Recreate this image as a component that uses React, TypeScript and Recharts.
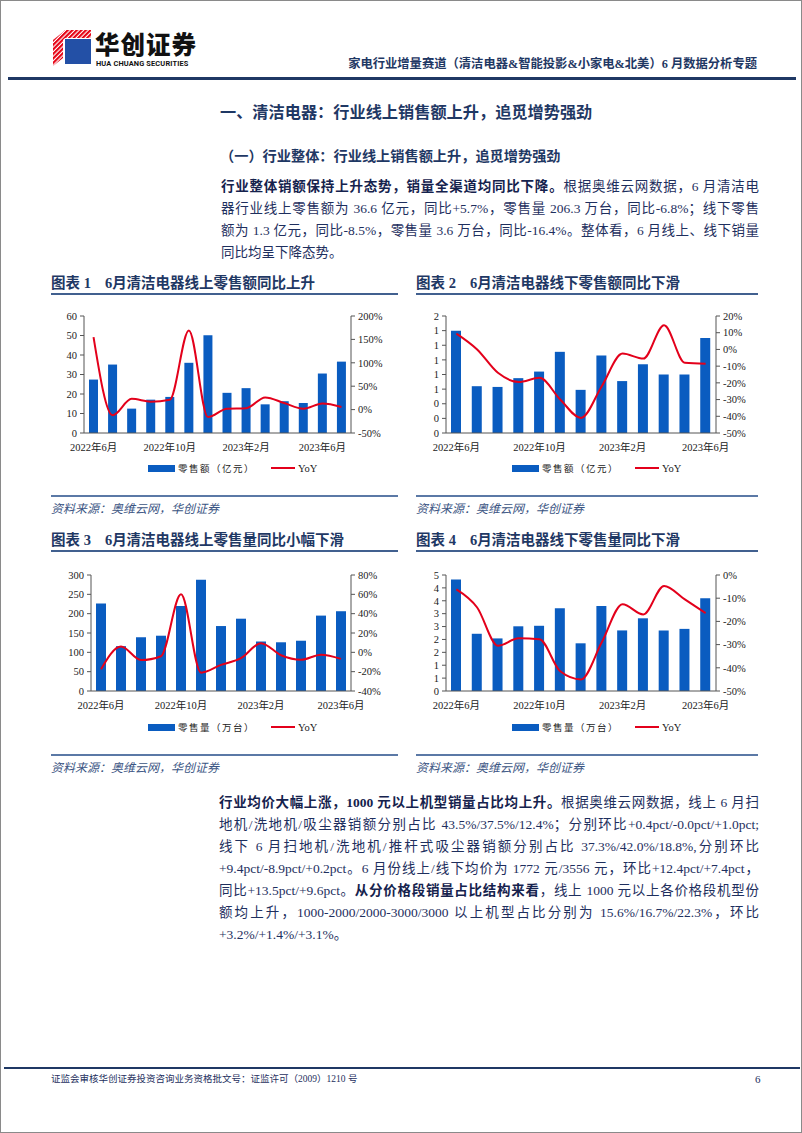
import React from "react";
import { ComposedChart, Bar, Line, XAxis, YAxis } from "recharts";

// months on the category axis (chart 1 has one extra bar)
const MONTHS = [
  "2022年6月", "2022年7月", "2022年8月", "2022年9月", "2022年10月", "2022年11月", "2022年12月",
  "2023年1月", "2023年2月", "2023年3月", "2023年4月", "2023年5月", "2023年6月",
];
const MONTHS_14 = [...MONTHS, "2023年7月"];

// 图表1 线上零售额（亿元）/ YoY %
const ONLINE_SALES = [27.4, 35.1, 12.5, 17.1, 18.5, 36.0, 50.1, 20.6, 23.0, 14.7, 16.3, 15.4, 30.5, 36.6];
const ONLINE_SALES_YOY = [155, -12, 23, 17, 21, 169, -16, 2, 3, 26, 14, 2, 13, 5.7];

// 图表2 线下零售额（亿元）/ YoY %
const OFFLINE_SALES = [1.4, 0.64, 0.63, 0.75, 0.84, 1.11, 0.59, 1.06, 0.71, 0.94, 0.8, 0.8, 1.3];
const OFFLINE_SALES_YOY = [9.5, 0, -14, -19.5, -17, -30, -41, -22, -2.5, -5.5, 14.5, -8, -8.5];

// 图表3 线上零售量（万台）/ YoY %
const ONLINE_VOL = [226, 116, 139, 143, 220, 288, 168, 187, 128, 126, 130, 195, 206.3];
const ONLINE_VOL_YOY = [-17.5, 6, -8, -4, 60, -21, -13, -6, 9.5, -3, -7.7, -2.4, -6.8];

// 图表4 线下零售量（万台）/ YoY %
const OFFLINE_VOL = [4.33, 2.22, 2.04, 2.51, 2.53, 3.21, 1.85, 3.3, 2.35, 2.82, 2.35, 2.41, 3.6];
const OFFLINE_VOL_YOY = [-6.2, -14, -30.5, -27.3, -27.7, -41.5, -45, -29, -12.6, -17, -4.7, -10.5, -16.4];

const TICKS_1L = [0, 10, 20, 30, 40, 50, 60];
const TICKS_1R = [-50, 0, 50, 100, 150, 200];
const TICKS_2L = [0, 0.2, 0.4, 0.6, 0.8, 1.0, 1.2, 1.4, 1.6];
const TICKS_2R = [-50, -40, -30, -20, -10, 0, 10, 20];
const TICKS_3L = [0, 50, 100, 150, 200, 250, 300];
const TICKS_3R = [-40, -20, 0, 20, 40, 60, 80];
const TICKS_4L = [0, 0.5, 1, 1.5, 2, 2.5, 3, 3.5, 4, 4.5];
const TICKS_4R = [-50, -40, -30, -20, -10, 0];

const BLUE = "#0a5cc0";
const RED = "#e3001b";
const NAVY = "#1f3864";
const TEXT = "#1e2f5e";
const SERIF = '"Liberation Serif", "Noto Sans CJK SC", serif';

const tickStyle = { fontSize: 10.5, fill: "#222", fontFamily: SERIF };

type ComboProps = {
  left: number;
  top: number;
  height: number;
  mLeft: number;
  months: string[];
  bars: number[];
  yoy: number[];
  lTicks: number[];
  rTicks: number[];
  barSize: number;
  lFmt?: (v: number) => string;
};

function Combo({ left, top, height, mLeft, months, bars, yoy, lTicks, rTicks, barSize, lFmt }: ComboProps) {
  const data = months.map((m, i) => ({ m, v: bars[i], yoy: yoy[i] }));
  return (
    <div style={{ position: "absolute", left, top }}>
      <ComposedChart
        width={360}
        height={height}
        data={data}
        margin={{ top: 10, right: 10, bottom: 5, left: mLeft }}
      >
        <XAxis
          dataKey="m"
          interval={3}
          tickLine={false}
          axisLine={{ stroke: "#555" }}
          tick={tickStyle}
          tickMargin={5}
          height={20}
        />
        <YAxis
          yAxisId="l"
          orientation="left"
          width={40}
          domain={[lTicks[0], lTicks[lTicks.length - 1]]}
          ticks={lTicks}
          interval={0}
          tickFormatter={lFmt}
          tickSize={4}
          tickMargin={3}
          tick={tickStyle}
          axisLine={{ stroke: "#555" }}
          tickLine={{ stroke: "#555" }}
        />
        <YAxis
          yAxisId="r"
          orientation="right"
          width={40}
          domain={[rTicks[0], rTicks[rTicks.length - 1]]}
          ticks={rTicks}
          interval={0}
          tickFormatter={(v: number) => `${v}%`}
          tickSize={4}
          tickMargin={3}
          tick={tickStyle}
          axisLine={{ stroke: "#555" }}
          tickLine={{ stroke: "#555" }}
        />
        <Bar yAxisId="l" dataKey="v" fill={BLUE} barSize={barSize} isAnimationActive={false} />
        <Line
          yAxisId="r"
          dataKey="yoy"
          type="monotone"
          stroke={RED}
          strokeWidth={2}
          dot={false}
          isAnimationActive={false}
        />
      </ComposedChart>
    </div>
  );
}

function Legend({ left, top, label }: { left: number; top: number; label: string }) {
  return (
    <div
      style={{
        position: "absolute", left, top, display: "flex", alignItems: "center",
        fontFamily: SERIF, fontSize: 9.5, color: "#222", whiteSpace: "nowrap",
      }}
    >
      <span style={{ display: "inline-block", width: 27, height: 7, background: BLUE }} />
      <span style={{ marginLeft: 3, letterSpacing: 1.5 }}>{label}</span>
      <span style={{ display: "inline-block", width: 24, height: 2, background: RED, marginLeft: 16 }} />
      <span style={{ marginLeft: 3, fontSize: 10.5 }}>YoY</span>
    </div>
  );
}

function Abs({ x, y, children, style }: { x: number; y: number; children?: React.ReactNode; style?: React.CSSProperties }) {
  return <div style={{ position: "absolute", left: x, top: y, whiteSpace: "nowrap", ...style }}>{children}</div>;
}

function HLine({ x, y, w, h = 2, color = "#41608f" }: { x: number; y: number; w: number; h?: number; color?: string }) {
  return <div style={{ position: "absolute", left: x, top: y, width: w, height: h, background: color }} />;
}

function ChartTitle({ x, y, num, text }: { x: number; y: number; num: string; text: string }) {
  return (
    <>
      <Abs x={x} y={y - 10} style={{ fontFamily: SERIF, fontWeight: 700, fontSize: 14.5, color: NAVY, lineHeight: "20px" }}>
        图表 {num}<span style={{ marginLeft: 14 }}>{text}</span>
      </Abs>
      <HLine x={x} y={y + 10} w={x < 400 ? 347 : 342} />
    </>
  );
}

function Source({ x, y }: { x: number; y: number }) {
  return (
    <>
      <HLine x={x} y={y - 14} w={x < 400 ? 347 : 342} color="#5b79a6" />
      <Abs x={x} y={y - 8} style={{ fontFamily: SERIF, fontStyle: "italic", fontSize: 12, color: "#3b5583", lineHeight: "16px" }}>
        资料来源：奥维云网，华创证券
      </Abs>
    </>
  );
}

// justified text lines of a paragraph
function Para({ x, y, w, lh, lines }: { x: number; y: number; w: number; lh: number; lines: React.ReactNode[] }) {
  return (
    <>
      {lines.map((ln, i) => (
        <div
          key={i}
          style={{
            position: "absolute", left: x, top: y + i * lh - 10, width: w, height: 20, lineHeight: "20px",
            fontFamily: SERIF, fontSize: 13.5, color: TEXT,
            textAlign: "justify", textAlignLast: i === lines.length - 1 ? "left" : "justify",
            whiteSpace: "nowrap", overflow: "visible",
          }}
        >
          {ln}
        </div>
      ))}
    </>
  );
}

const B = ({ children }: { children: React.ReactNode }) => <b style={{ color: "#15224d" }}>{children}</b>;

export default function App() {
  const round = (v: number) => String(Math.round(v));
  return (
    <div
      style={{
        position: "absolute", left: 0, top: 0, width: 802, height: 1133, background: "#fff",
        boxSizing: "border-box", border: "1px solid #8a8a8a", overflow: "hidden",
      }}
    >
      {/* header */}
      <svg style={{ position: "absolute", left: 52, top: 29 }} width={38} height={36}>
        <defs>
          <pattern id="sr" width="3.2" height="3.2" patternUnits="userSpaceOnUse" patternTransform="rotate(45)">
            <rect width="2.1" height="3.2" fill="#e60012" />
          </pattern>
          <pattern id="sb" width="3.2" height="3.2" patternUnits="userSpaceOnUse" patternTransform="rotate(45)">
            <rect width="2.4" height="3.2" fill="#2350a6" />
          </pattern>
        </defs>
        <polygon points="0,10 10,2 10,28 0,36" fill="url(#sr)" />
        <polygon points="10,2 12,0 38,0 38,8 12,8 10,10" fill="url(#sr)" />
        <rect x={12} y={9} width={26} height={25} fill="#2350a6" />
        <rect x={12} y={22} width={14} height={12} fill="url(#sb)" />
      </svg>
      <Abs x={94} y={31} style={{ fontFamily: '"Noto Sans CJK SC", sans-serif', fontWeight: 900, fontSize: 24.5, color: "#111", lineHeight: "24px", letterSpacing: 1 }}>
        华创证券
      </Abs>
      <Abs x={95} y={59} style={{ fontFamily: "Roboto, sans-serif", fontWeight: 700, fontSize: 7.4, color: "#111", lineHeight: "8px", letterSpacing: 0.15 }}>
        HUA CHUANG SECURITIES
      </Abs>
      <div
        style={{
          position: "absolute", right: 44, top: 54, fontFamily: SERIF, fontWeight: 700, fontSize: 12.3,
          color: NAVY, lineHeight: "18px", whiteSpace: "nowrap",
        }}
      >
        家电行业增量赛道（清洁电器&amp;智能投影&amp;小家电&amp;北美）6 月数据分析专题
      </div>
      <HLine x={7} y={76} w={788} h={3} color="#1f3864" />

      {/* headings */}
      <Abs x={219} y={101} style={{ fontFamily: SERIF, fontWeight: 700, fontSize: 16.2, color: NAVY, lineHeight: "22px" }}>
        一、清洁电器：行业线上销售额上升，追觅增势强劲
      </Abs>
      <Abs x={219} y={145} style={{ fontFamily: SERIF, fontWeight: 700, fontSize: 14.2, color: NAVY, lineHeight: "20px" }}>
        （一）行业整体：行业线上销售额上升，追觅增势强劲
      </Abs>

      <Para
        x={220}
        y={186}
        w={538}
        lh={22}
        lines={[
          <><B>行业整体销额保持上升态势，销量全渠道均同比下降。</B>根据奥维云网数据，6 月清洁电</>,
          <>器行业线上零售额为 36.6 亿元，同比+5.7%，零售量 206.3 万台，同比-6.8%；线下零售</>,
          <>额为 1.3 亿元，同比-8.5%，零售量 3.6 万台，同比-16.4%。整体看，6 月线上、线下销量</>,
          <>同比均呈下降态势。</>,
        ]}
      />

      {/* charts row 1 */}
      <ChartTitle x={50} y={282} num="1" text="6月清洁电器线上零售额同比上升" />
      <ChartTitle x={415} y={282} num="2" text="6月清洁电器线下零售额同比下滑" />
      <Combo left={40} top={305} height={152} mLeft={3} months={MONTHS_14} bars={ONLINE_SALES} yoy={ONLINE_SALES_YOY} lTicks={TICKS_1L} rTicks={TICKS_1R} barSize={9} />
      <Combo left={405} top={305} height={152} mLeft={0} months={MONTHS} bars={OFFLINE_SALES} yoy={OFFLINE_SALES_YOY} lTicks={TICKS_2L} rTicks={TICKS_2R} barSize={10} lFmt={round} />
      <Legend left={147} top={460} label="零售额（亿元）" />
      <Legend left={511} top={460} label="零售额（亿元）" />
      <Source x={50} y={508} />
      <Source x={415} y={508} />

      {/* charts row 2 */}
      <ChartTitle x={50} y={539} num="3" text="6月清洁电器线上零售量同比小幅下滑" />
      <ChartTitle x={415} y={539} num="4" text="6月清洁电器线下零售量同比下滑" />
      <Combo left={40} top={564} height={151} mLeft={10} months={MONTHS} bars={ONLINE_VOL} yoy={ONLINE_VOL_YOY} lTicks={TICKS_3L} rTicks={TICKS_3R} barSize={10} />
      <Combo left={405} top={564} height={151} mLeft={0} months={MONTHS} bars={OFFLINE_VOL} yoy={OFFLINE_VOL_YOY} lTicks={TICKS_4L} rTicks={TICKS_4R} barSize={10} lFmt={round} />
      <Legend left={147} top={719} label="零售量（万台）" />
      <Legend left={511} top={719} label="零售量（万台）" />
      <Source x={50} y={767} />
      <Source x={415} y={767} />

      <Para
        x={218}
        y={802}
        w={540}
        lh={22}
        lines={[
          <><B>行业均价大幅上涨，1000 元以上机型销量占比均上升。</B>根据奥维云网数据，线上 6 月扫</>,
          <>地机/洗地机/吸尘器销额分别占比 43.5%/37.5%/12.4%；分别环比+0.4pct/-0.0pct/+1.0pct;</>,
          <>线下 6 月扫地机/洗地机/推杆式吸尘器销额分别占比 37.3%/42.0%/18.8%,分别环比</>,
          <>+9.4pct/-8.9pct/+0.2pct。6 月份线上/线下均价为 1772 元/3556 元，环比+12.4pct/+7.4pct，</>,
          <>同比+13.5pct/+9.6pct。<B>从分价格段销量占比结构来看</B>，线上 1000 元以上各价格段机型份</>,
          <>额均上升，1000-2000/2000-3000/3000 以上机型占比分别为 15.6%/16.7%/22.3%，环比</>,
          <>+3.2%/+1.4%/+3.1%。</>,
        ]}
      />

      {/* footer */}
      <HLine x={3} y={1066} w={796} h={1.5} color="#1f3864" />
      <Abs x={50} y={1071} style={{ fontFamily: SERIF, fontSize: 9.5, color: TEXT, lineHeight: "14px" }}>
        证监会审核华创证券投资咨询业务资格批文号：证监许可（2009）1210 号
      </Abs>
      <Abs x={754} y={1070} style={{ fontFamily: SERIF, fontSize: 11, color: TEXT, lineHeight: "16px" }}>
        6
      </Abs>
    </div>
  );
}
